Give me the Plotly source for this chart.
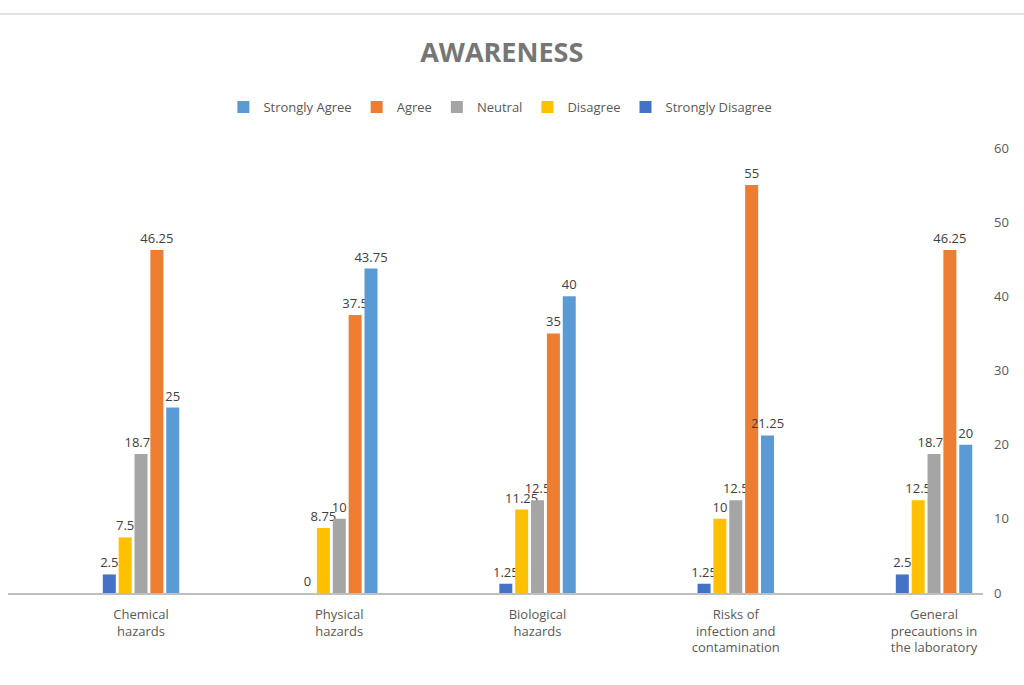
import plotly.graph_objects as go

categories = ["Chemical<br>hazards", "Physical<br>hazards", "Biological<br>hazards",
              "Risks of<br>infection and<br>contamination",
              "General<br>precautions in<br>the laboratory"]
strongly_disagree = [2.5, 0, 1.25, 1.25, 2.5]
disagree = [7.5, 8.75, 11.25, 10, 12.5]
neutral = [18.75, 10, 12.5, 12.5, 18.75]
agree = [46.25, 37.5, 35, 55, 46.25]
strongly_agree = [25, 43.75, 40, 21.25, 20]
y_ticks = [0, 10, 20, 30, 40, 50, 60]

series = [
    ("Strongly Disagree", strongly_disagree, "#4472C4"),
    ("Disagree", disagree, "#FFC000"),
    ("Neutral", neutral, "#A5A5A5"),
    ("Agree", agree, "#ED7D31"),
    ("Strongly Agree", strongly_agree, "#5B9BD5"),
]

font_family = "Liberation Sans Narrow, Open Sans, Arial, sans-serif"

fig = go.Figure()
for name, vals, color in series:
    fig.add_trace(go.Bar(
        name=name, x=categories, y=vals,
        marker=dict(color=color, line=dict(width=0)),
        text=[f"{v:g}" for v in vals], textposition="outside",
        constraintext="none",
        textfont=dict(size=13, color="#404040", family=font_family),
        cliponaxis=False,
    ))

fig.update_layout(
    width=1024, height=685,
    paper_bgcolor="white", plot_bgcolor="white",
    margin=dict(l=8, r=41, t=148, b=92),
    barmode="group", bargap=0.6, bargroupgap=0.18,
    uniformtext=dict(minsize=13, mode="show"),
    title=dict(text="<b>AWARENESS</b>", x=0.49, xanchor="center", y=0.924, yanchor="middle",
               font=dict(size=27, color="#767676", family=font_family)),
    legend=dict(orientation="h", traceorder="reversed", x=0.505, xanchor="center",
                y=1.092, yanchor="middle",
                font=dict(size=13, color="#595959", family=font_family),
                itemwidth=30, itemsizing="constant"),
    font=dict(family=font_family, color="#595959"),
    showlegend=True,
)
fig.update_xaxes(
    range=[-0.671, 4.247], showline=True, linecolor="#BFBFBF", linewidth=2,
    showgrid=False, ticks="", ticklabelstandoff=8,
    tickfont=dict(size=13, color="#595959", family=font_family),
)
fig.update_yaxes(
    range=[0, 60], side="right", tickvals=y_ticks, showgrid=False, showline=False,
    zeroline=False, ticks="", ticklabelstandoff=10,
    tickfont=dict(size=13, color="#595959", family=font_family),
)
fig.add_shape(type="line", xref="paper", yref="paper", x0=-0.01, x1=1.05, y0=1.301, y1=1.301,
              line=dict(color="#D9D9D9", width=1.5))

fig.write_html("out.html")
